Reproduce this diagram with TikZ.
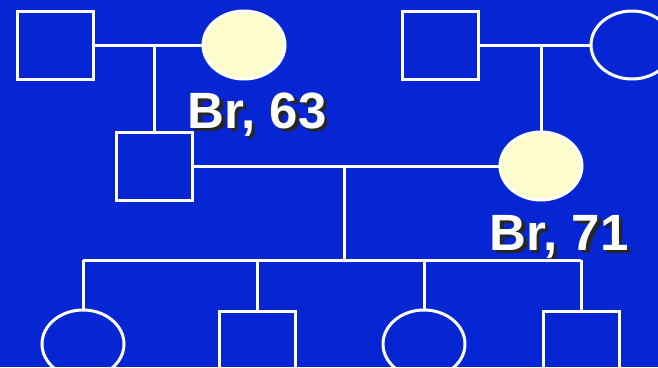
\documentclass[tikz,border=0pt]{standalone}
\usepackage{fontspec}
\setmainfont{Liberation Sans}
\usetikzlibrary{positioning,shapes}

\definecolor{slideblue}{RGB}{6,38,212}
\definecolor{paleyellow}{RGB}{252,252,204}
\newcommand{\shadowed}[1]{\rlap{\hspace{3.5pt}\raisebox{-3.5pt}{\color{black!85}#1}}#1}

\begin{document}
\begin{tikzpicture}[x=1pt, y=-1pt,
    male/.style={rectangle, draw=white, line width=3pt, minimum width=76pt, minimum height=68pt, inner sep=0pt},
    female/.style={ellipse, draw=white, line width=3pt, minimum width=82pt, minimum height=68pt, inner sep=0pt},
    affected/.style={fill=paleyellow},
    line/.style={draw=white, line width=3pt},
    age/.style={text=white, font=\fontsize{51}{51}\selectfont\bfseries, inner sep=0pt, anchor=base}
]
\fill[slideblue] (0,0) rectangle (658,367);
\useasboundingbox (0,0) rectangle (658,367);

% grandparents
\node[male] (gf1) at (55,45) {};
\node[female, affected] (gm1) at (244,45) {};
\node[male] (gf2) at (440,45) {};
\node[female] (gm2) at (632,45) {};

% parents
\node[male] (father) at (154,166) {};
\node[female, affected] (mother) at (541,166) {};

% children
\node[female] (c1) at (83,344) {};
\node[male] (c2) at (257,345) {};
\node[female] (c3) at (424,344) {};
\node[male] (c4) at (581,345) {};

% ages
\node[age] (br63) at (257,128) {\shadowed{Br, 63}};
\node[age] (br71) at (559,250) {\shadowed{Br, 71}};

\draw[line] (gf1.east) -- (gm1.west);
\draw[line] (father.north) -- (father.north |- gf1.east);
\draw[line] (gf2.east) -- (gm2.west);
\draw[line] (mother.north) -- (mother.north |- gf2.east);

\draw[line] (father.east) -- (mother.west);
\coordinate (couple) at (344,166);
\coordinate (sibs) at (344,260);
\draw[line] (couple) -- (sibs);
\draw[line] (c1.north |- sibs) -- (c4.north |- sibs);
\foreach \c in {c1,c2,c3,c4}
    \draw[line] (\c.north) -- (\c.north |- sibs);

\end{tikzpicture}
\end{document}
